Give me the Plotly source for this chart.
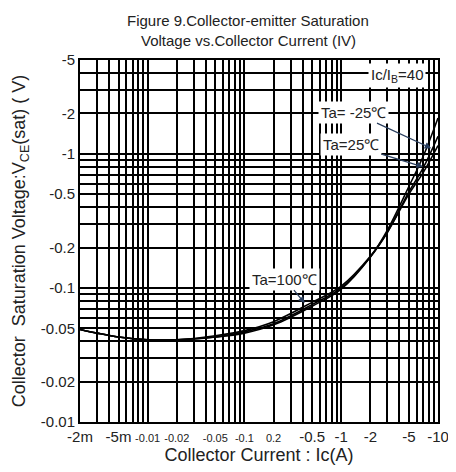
import math
import plotly.graph_objects as go

# collector current magnitude (A) and Vce(sat) magnitude (V)
ic = [0.002, 0.003, 0.005, 0.01, 0.02, 0.05, 0.1, 0.2, 0.5, 1, 2, 3, 5, 7, 10]
vce_m25 = [0.049, 0.046, 0.043, 0.041, 0.041, 0.043, 0.046, 0.053, 0.073, 0.098, 0.17, 0.27, 0.57, 0.95, 1.85]
vce_25 = [0.049, 0.046, 0.043, 0.041, 0.041, 0.043, 0.047, 0.054, 0.075, 0.10, 0.17, 0.26, 0.52, 0.78, 1.35]
vce_100 = [0.049, 0.046, 0.043, 0.041, 0.041, 0.044, 0.048, 0.056, 0.078, 0.103, 0.172, 0.26, 0.50, 0.72, 1.15]

small = "<span style='font-size:11px'>%s</span>"
x_labels = {0.002: "-2m", 0.005: "-5m", 0.01: small % "-0.01", 0.02: small % "-0.02",
            0.05: small % "-0.05", 0.1: small % "-0.1", 0.2: small % "0.2",
            0.5: "-0.5", 1: "-1", 2: "-2", 5: "-5", 10: "-10"}
y_labels = {0.01: "-0.01", 0.02: "-0.02", 0.05: "-0.05", 0.1: "-0.1", 0.2: "-0.2",
            0.5: "-0.5", 1: "-1", 2: "-2", 5: "-5"}


def decade_ticks(lo, hi, labels):
    vals, texts = [], []
    for e in range(-4, 2):
        for d in range(1, 10):
            v = round(d * 10 ** e, 6)
            if lo - 1e-9 <= v <= hi + 1e-9:
                vals.append(v)
                texts.append(labels.get(v, ""))
    return vals, texts


xv, xt = decade_ticks(0.002, 10, x_labels)
yv, yt = decade_ticks(0.01, 5, y_labels)

fig = go.Figure()
for v in [vce_m25, vce_25, vce_100]:
    fig.add_trace(go.Scatter(x=ic, y=v, mode="lines", line=dict(color="black", width=1.6),
                             line_shape="spline", showlegend=False))

font = dict(family="Liberation Sans, Arial, sans-serif", size=15, color="#222")
axis_style = dict(type="log", showgrid=True, gridcolor="black", gridwidth=1.5, showline=True,
                  mirror=True, linecolor="black", linewidth=2, ticks="", zeroline=False,
                  automargin=False)
# page body has an 8px margin, so the figure starts 8px in from the window edge
fig.update_layout(
    width=448, height=464,
    margin=dict(l=72, r=18, t=52, b=50),
    paper_bgcolor="white", plot_bgcolor="white",
    font=font,
    xaxis=dict(range=[math.log10(0.002), 1], tickvals=xv, ticktext=xt, tickangle=0,
               title=dict(text="Collector Current : Ic(A)", standoff=1), **axis_style),
    yaxis=dict(range=[-2, math.log10(5)], tickvals=yv, ticktext=yt,
               title=dict(text="Collector  Saturation Voltage:V<sub>CE</sub>(sat) ( V)", standoff=10),
               **axis_style),
)

# two-line title
fig.add_annotation(x=0.47, y=1.11, xref="paper", yref="paper", showarrow=False, yanchor="middle",
                   text="Figure 9.Collector-emitter Saturation", font=dict(size=15))
fig.add_annotation(x=0.47, y=1.055, xref="paper", yref="paper", showarrow=False, yanchor="middle",
                   text="Voltage vs.Collector Current (IV)", font=dict(size=15))

box = dict(bgcolor="white", font=dict(size=15, color="#222"), borderpad=2)
fig.add_annotation(x=0.885, y=0.958, xref="paper", yref="paper", showarrow=False,
                   text="Ic/I<sub>B</sub>=40", xanchor="center", yanchor="middle", **box)
arrow = dict(showarrow=True, arrowhead=2, arrowsize=1, arrowwidth=1.3)
fig.add_annotation(x=math.log10(8.5), y=math.log10(1.1), text="Ta= -25℃",
                   ax=-78, ay=-36, **arrow, **box)
fig.add_annotation(x=math.log10(7), y=math.log10(0.8), text="Ta=25℃",
                   ax=-72, ay=-22, **arrow, **box)
fig.add_annotation(x=math.log10(0.42), y=math.log10(0.077), text="Ta=100℃",
                   ax=-20, ay=-24, **arrow, **box)

fig.write_html("out.html")
